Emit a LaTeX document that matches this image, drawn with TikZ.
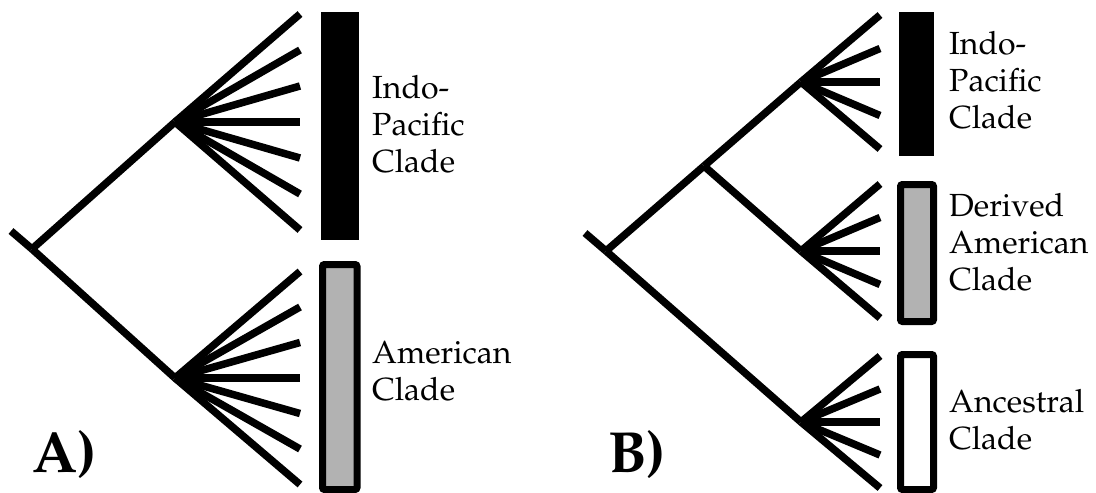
\documentclass[tikz,border=0pt]{standalone}
\usepackage[T1]{fontenc}
\usepackage{mathpazo}
\tikzset{
  branch/.style={line width=7.5pt, line cap=butt},
  blackbar/.style={fill=black, draw=none},
  greybar/.style={draw=black, line width=7pt, fill=black!30, rounded corners=2pt},
  whitebar/.style={draw=black, line width=7pt, fill=white, rounded corners=2pt},
  cladelabel/.style={anchor=base west, inner sep=0pt, align=left, font=\fontsize{32}{37}\selectfont},
  panellabel/.style={anchor=base west, inner sep=0pt, font=\fontsize{58}{60}\selectfont\bfseries}
}
\begin{document}
\begin{tikzpicture}[x=1pt, y=-1pt]
\useasboundingbox (0,0) rectangle (1096,493);
% ---------- Panel A ----------
\coordinate (s1) at (11,231);
\coordinate (r1) at (32,249);
\coordinate (u1) at (175,122);
\coordinate (l1) at (175,378);
\draw[branch] (s1) -- (r1);
\draw[branch] (r1) -- (u1);
\draw[branch] (r1) -- (l1);
\foreach \k [count=\i] in {-3,...,3}{
  \coordinate (ua\i) at (300,{122+36*\k});
  \coordinate (la\i) at (300,{378+35.5*\k});
  \draw[branch] (u1) -- (ua\i);
  \draw[branch] (l1) -- (la\i);
}
\fill[blackbar] (320.7,12) rectangle (359,240);
\draw[greybar] (322.5,264.5) rectangle (357,489.5);
\node[cladelabel] (labA1) at (372,172) {Indo-\\Pacific\\Clade};
\node[cladelabel] (labA2) at (372,400) {American\\Clade};
\node[panellabel] (panA) at (32,472) {A)};
% ---------- Panel B ----------
\coordinate (s2) at (585,233);
\coordinate (r2) at (606,251);
\coordinate (i2) at (704,166);
\coordinate (t2) at (801,82);
\coordinate (m2) at (801,251);
\coordinate (b2) at (801,422);
\draw[branch] (s2) -- (r2);
\draw[branch] (r2) -- (i2);
\draw[branch] (i2) -- (t2);
\draw[branch] (i2) -- (m2);
\draw[branch] (r2) -- (b2);
\foreach \k [count=\i] in {-2,...,2}{
  \coordinate (tb\i) at (880,{82+33.5*\k});
  \coordinate (mb\i) at (880,{251+33.5*\k});
  \coordinate (bb\i) at (880,{422+33*\k});
  \draw[branch] (t2) -- (tb\i);
  \draw[branch] (m2) -- (mb\i);
  \draw[branch] (b2) -- (bb\i);
}
\fill[blackbar] (899,12) rectangle (934,156);
\draw[greybar] (900.5,184.5) rectangle (933.5,321.5);
\draw[whitebar] (900.5,354.5) rectangle (933.5,489.5);
\node[cladelabel] (labB1) at (949,128) {Indo-\\Pacific\\Clade};
\node[cladelabel] (labB2) at (949,290) {Derived\\American\\Clade};
\node[cladelabel] (labB3) at (949,449) {Ancestral\\Clade};
\node[panellabel] (panB) at (608,472) {B)};
\end{tikzpicture}
\end{document}
